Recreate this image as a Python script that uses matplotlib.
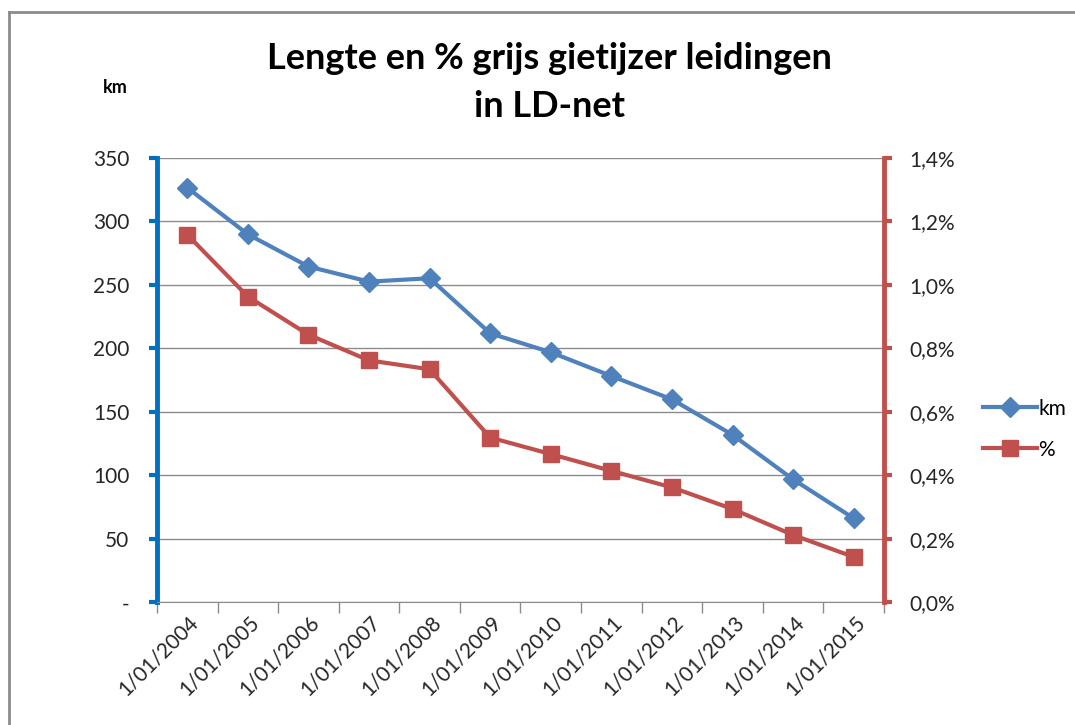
import matplotlib.pyplot as plt
from matplotlib.lines import Line2D
from matplotlib.ticker import FuncFormatter, FixedLocator
from matplotlib.transforms import ScaledTranslation
import numpy as np

plt.rcParams['font.family'] = ['Lato', 'DejaVu Sans']

dates = ['1/01/2004', '1/01/2005', '1/01/2006', '1/01/2007', '1/01/2008', '1/01/2009',
         '1/01/2010', '1/01/2011', '1/01/2012', '1/01/2013', '1/01/2014', '1/01/2015']
km = [326.5, 289.8, 264.4, 252.5, 255.2, 211.8, 196.9, 178.2, 159.8, 131.9, 96.8, 66.2]
pct = [1.158, 0.963, 0.843, 0.762, 0.734, 0.519, 0.467, 0.414, 0.362, 0.294, 0.212, 0.143]

blue = '#4F81BD'
red = '#C0504D'

fig = plt.figure(figsize=(10.75, 7.25), dpi=100)
ax = fig.add_axes([0.146, 0.1692, 0.6763, 0.6131])
ax2 = ax.twinx()

x = np.arange(len(dates))
l1, = ax.plot(x, km, color=blue, lw=3, marker='D', ms=10, label='km', zorder=3)
l2, = ax2.plot(x, pct, color=red, lw=3, marker='s', ms=11, label='%', zorder=3)

ax.set_xlim(-0.5, len(dates) - 0.5)
ax.set_ylim(0, 350)
ax2.set_ylim(0, 1.4)
ax.set_yticks(np.arange(0, 351, 50))
ax2.set_yticks(np.arange(0, 1.41, 0.2))
ax.yaxis.set_major_formatter(FuncFormatter(lambda v, p: '-' if v == 0 else f'{v:.0f}'))
ax2.yaxis.set_major_formatter(FuncFormatter(lambda v, p: f'{v:.1f}%'.replace('.', ',')))

ax.grid(axis='y', color='#8c8c8c', lw=1)
ax.set_axisbelow(True)

# category boundaries for ticks, labels at the centres
ax.xaxis.set_major_locator(FixedLocator(np.arange(-0.5, len(dates))))
ax.xaxis.set_major_formatter(FuncFormatter(lambda v, p: ''))
ax.set_xticks(x, minor=True)
ax.set_xticklabels(dates, minor=True, rotation=45, ha='right', va='center',
                   rotation_mode='anchor', fontsize=15, color='#262626')
ax.tick_params(axis='x', which='minor', length=0, pad=12)
ax.tick_params(axis='x', which='major', length=8, color='#8c8c8c', width=1)
shift = ScaledTranslation(0.08, 0, fig.dpi_scale_trans)
for lab in ax.get_xticklabels(minor=True):
    lab.set_transform(lab.get_transform() + shift)

for s in ['top', 'right']:
    ax.spines[s].set_visible(False)
for s in ['top', 'left', 'bottom']:
    ax2.spines[s].set_visible(False)
ax.spines['bottom'].set_color('#8c8c8c')
ax.spines['left'].set_color('#0070C0')
ax.spines['left'].set_linewidth(3.5)
ax2.spines['right'].set_color(red)
ax2.spines['right'].set_linewidth(3.5)

ax.tick_params(axis='y', length=6, width=3, color='#0070C0', labelsize=15,
               labelcolor='#262626', pad=14)
ax2.tick_params(axis='y', length=6, width=3, color=red, labelsize=15,
                labelcolor='#262626', pad=12)

fig.text(0.511, 0.886, 'Lengte en % grijs gietijzer leidingen\nin LD-net', ha='center',
         va='center', fontsize=26, fontweight='bold', linespacing=1.55)
fig.text(0.107, 0.879, 'km', ha='center', va='center', fontsize=13, fontweight='bold')

fig.legend(handles=[l1, l2], loc='center left', bbox_to_anchor=(0.897, 0.408),
           frameon=False, fontsize=15, handlelength=2.6, handletextpad=0.05,
           labelspacing=1.0)

# outer chart border (top and left visible)
fig.add_artist(Line2D([0.0085, 1.0], [0.983, 0.983], transform=fig.transFigure,
                      color='#8c8c8c', lw=2))
fig.add_artist(Line2D([0.0085, 0.0085], [0.0, 0.983], transform=fig.transFigure,
                      color='#8c8c8c', lw=2))

fig.savefig('out.png', dpi=100)
